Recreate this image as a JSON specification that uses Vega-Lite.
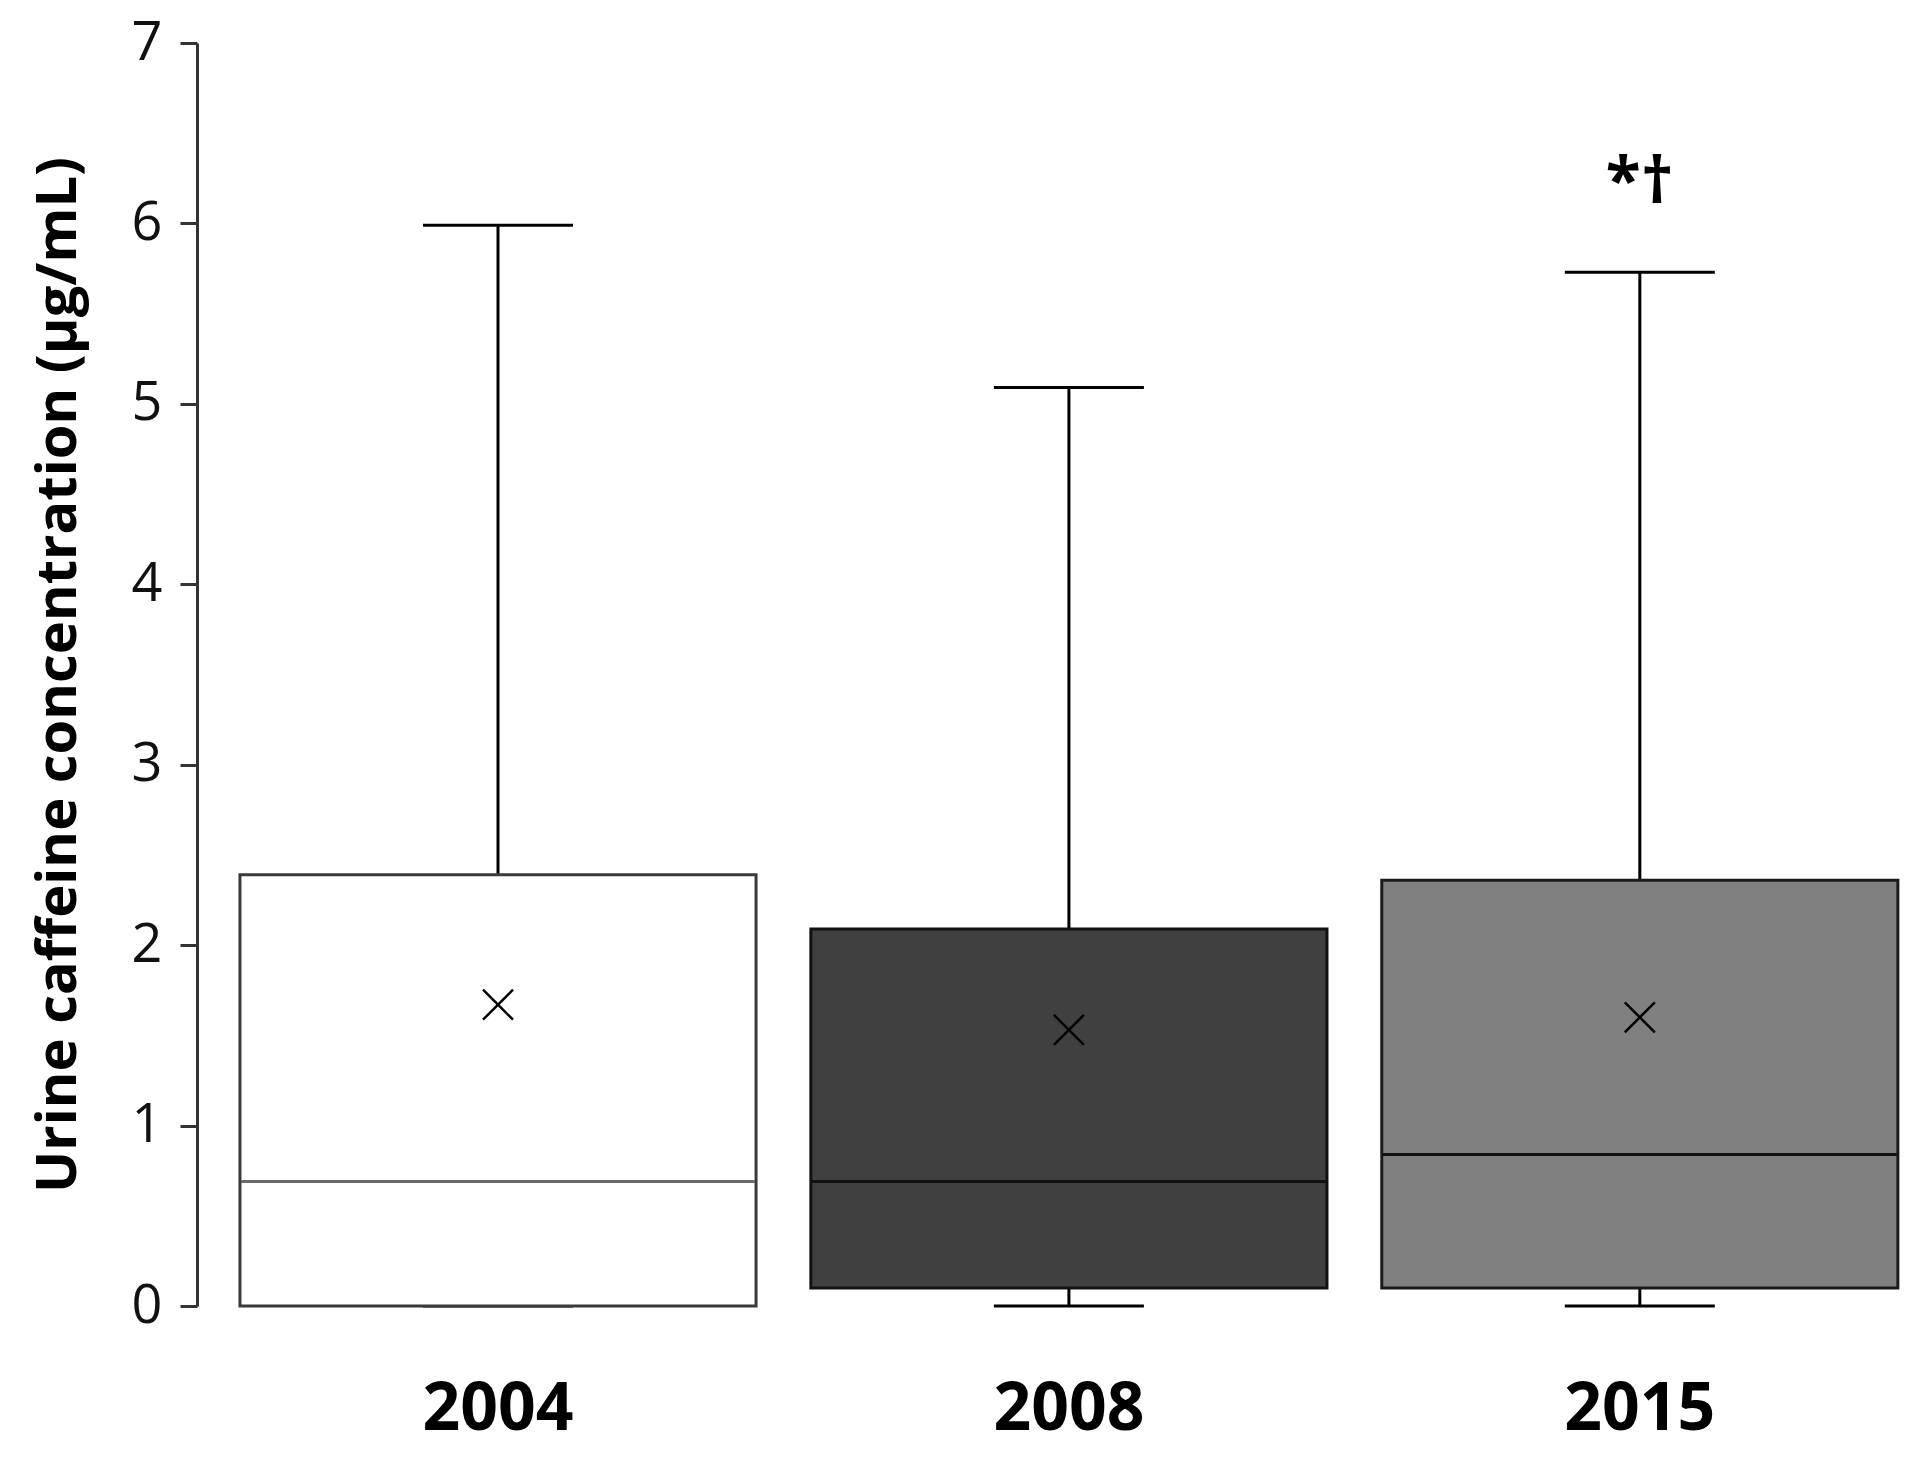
{
  "$schema": "https://vega.github.io/schema/vega-lite/v6.json",
  "autosize": "none",
  "width": 1723,
  "height": 1263,
  "padding": {"left": 197, "top": 43, "right": 7, "bottom": 162},
  "background": "white",
  "config": {"view": {"stroke": null}, "font": "Open Sans"},
  "data": {"values": [
    {"year": "2004", "min": 0, "q1": 0, "median": 0.69, "q3": 2.39, "max": 5.99, "mean": 1.67, "label": ""},
    {"year": "2008", "min": 0, "q1": 0.1, "median": 0.69, "q3": 2.09, "max": 5.09, "mean": 1.53, "label": ""},
    {"year": "2015", "min": 0, "q1": 0.1, "median": 0.84, "q3": 2.36, "max": 5.73, "mean": 1.6, "label": "*†"}
  ]},
  "encoding": {
    "x": {
      "field": "year", "type": "nominal", "sort": ["2004", "2008", "2015"],
      "scale": {"paddingInner": 0.096, "paddingOuter": 0.057, "align": 0.66},
      "axis": {"title": null, "domain": false, "ticks": false, "labelAngle": 0,
        "labelFont": "Open Sans", "labelFontWeight": "bold", "labelFontSize": 66,
        "labelColor": "#000", "labelPadding": 71}
    }
  },
  "layer": [
    {
      "mark": {"type": "rule", "color": "#000", "strokeWidth": 3},
      "encoding": {
        "y": {"field": "q3", "type": "quantitative",
          "scale": {"domain": [0, 7], "nice": false, "zero": true},
          "axis": {
            "title": "Urine caffeine concentration (μg/mL)",
            "titleFont": "Open Sans", "titleFontWeight": "bold", "titleFontSize": 56,
            "titleColor": "#000", "titlePadding": 44,
            "values": [0, 1, 2, 3, 4, 5, 6, 7], "format": "d", "grid": false,
            "domainColor": "#333", "domainWidth": 3,
            "tickColor": "#333", "tickWidth": 3, "tickSize": 17,
            "labelFont": "Open Sans", "labelFontSize": 54, "labelColor": "#111",
            "labelPadding": 18
          }},
        "y2": {"field": "max"}
      }
    },
    {
      "mark": {"type": "rule", "color": "#000", "strokeWidth": 3},
      "encoding": {
        "y": {"field": "min", "type": "quantitative"},
        "y2": {"field": "q1"}
      }
    },
    {
      "mark": {"type": "tick", "color": "#000", "size": 150, "thickness": 3, "opacity": 1},
      "encoding": {"y": {"field": "max", "type": "quantitative"}}
    },
    {
      "mark": {"type": "tick", "color": "#000", "size": 150, "thickness": 3, "opacity": 1},
      "encoding": {"y": {"field": "min", "type": "quantitative"}}
    },
    {
      "mark": {"type": "bar", "strokeWidth": 3, "opacity": 1},
      "encoding": {
        "y": {"field": "q1", "type": "quantitative"},
        "y2": {"field": "q3"},
        "fill": {"field": "year", "type": "nominal", "legend": null,
          "scale": {"domain": ["2004", "2008", "2015"], "range": ["#ffffff", "#404040", "#808080"]}},
        "stroke": {"field": "year", "type": "nominal", "legend": null,
          "scale": {"domain": ["2004", "2008", "2015"], "range": ["#3a3a3a", "#111111", "#1a1a1a"]}}
      }
    },
    {
      "mark": {"type": "tick", "size": 514, "thickness": 3, "opacity": 1},
      "encoding": {
        "y": {"field": "median", "type": "quantitative"},
        "color": {"field": "year", "type": "nominal", "legend": null,
          "scale": {"domain": ["2004", "2008", "2015"], "range": ["#6a6a6a", "#111111", "#111111"]}}
      }
    },
    {
      "mark": {"type": "point", "shape": "M-1,-1L1,1M-1,1L1,-1", "filled": false,
        "stroke": "#000", "strokeWidth": 2.5, "size": 900, "opacity": 1},
      "encoding": {"y": {"field": "mean", "type": "quantitative"}}
    },
    {
      "mark": {"type": "text", "font": "Open Sans", "fontWeight": "bold", "fontSize": 64,
        "color": "#000", "baseline": "middle", "align": "center", "dy": -88},
      "encoding": {
        "y": {"field": "max", "type": "quantitative"},
        "text": {"field": "label"}
      }
    }
  ]
}
